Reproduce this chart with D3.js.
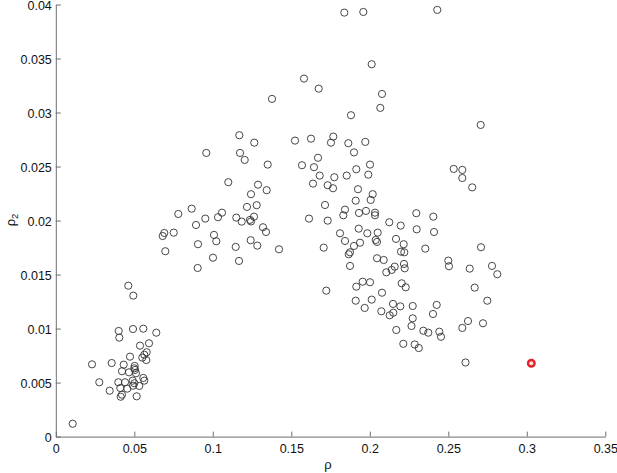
<!DOCTYPE html>
<html>
<head>
<meta charset="utf-8">
<script src="https://cdn.jsdelivr.net/npm/d3@7"></script>
<style>
  html, body { margin: 0; padding: 0; background: #fff; }
  svg { display: block; font-family: "Liberation Sans", Arial, Helvetica, sans-serif; }
</style>
</head>
<body>
<svg id="chart" width="617" height="473"></svg>
<script>
// ---- data (rho, rho_2) ----
const rho = [
  0.04618,0.04936,0.04006,0.04045,0.04917,0.05573,0.06401,0.05936,0.05363,0.05790,
  0.05637,0.05510,0.05764,0.04726,0.02306,0.03560,0.04325,0.05025,0.05000,0.04217,
  0.04662,0.05045,0.05108,0.05573,0.05637,0.04898,0.05000,0.02771,0.03981,0.04408,
  0.04108,0.04554,0.05318,0.04917,0.03433,0.04217,0.04134,0.05153,0.01076,
  0.13771,0.11688,0.12643,0.09586,0.11733,0.12032,0.13497,0.10987,0.12879,0.13433,
  0.12433,0.12796,0.12178,0.08656,0.07803,0.10586,0.10331,0.09522,0.11497,0.11841,
  0.12624,0.12369,0.12433,0.08930,0.13197,0.13388,0.06911,0.06809,0.07510,0.10076,
  0.10223,0.12414,0.12834,0.09057,0.11459,0.14217,0.06975,0.10013,0.11669,0.09038,
  0.18376,0.19586,0.24299,0.20121,0.15809,0.16745,0.20777,0.20669,0.18802,0.15236,
  0.16255,0.17675,0.17528,0.18631,0.19713,0.18994,0.16701,0.15681,0.16446,0.16809,
  0.17739,0.18529,0.19140,0.20013,0.19904,0.16382,0.17319,0.17656,0.19249,0.20185,
  0.20057,0.19102,0.17146,0.18420,0.18312,0.19312,0.19758,0.20331,0.20331,0.16127,
  0.17319,0.21242,0.21968,0.22962,0.24045,0.22987,0.24089,0.19293,0.19841,0.20503,
  0.18102,0.18420,0.19376,0.18994,0.20376,0.20459,0.21669,0.22159,0.17064,0.18739,
  0.18656,0.21987,0.22197,0.23535,0.20459,0.20885,0.18739,0.21586,0.21395,0.21051,
  0.22178,0.22223,0.25000,0.25044,0.26363,0.27083,0.19548,0.20013,0.19140,0.22032,
  0.22287,0.17229,0.26681,0.20777,0.19102,0.20121,0.19675,0.21478,0.21943,0.22733,
  0.24261,0.20733,0.21497,0.21267,0.24025,0.22733,0.22656,0.21688,0.23408,0.23726,
  0.24427,0.24535,0.25892,0.26255,0.27210,0.22134,0.22860,0.23121,0.25344,0.25892,
  0.25892,0.26522,0.27064,0.27783,0.28121,0.27484,0.26096
];
const rho2 = [
  0.01397,0.01305,0.00978,0.00916,0.00996,0.00999,0.00962,0.00864,0.00842,0.00781,
  0.00758,0.00731,0.00709,0.00740,0.00669,0.00681,0.00666,0.00654,0.00632,0.00605,
  0.00595,0.00617,0.00586,0.00543,0.00518,0.00518,0.00494,0.00503,0.00503,0.00503,
  0.00450,0.00444,0.00469,0.00471,0.00425,0.00388,0.00369,0.00373,0.00119,
  0.03126,0.02790,0.02721,0.02626,0.02626,0.02561,0.02518,0.02355,0.02332,0.02281,
  0.02244,0.02142,0.02126,0.02110,0.02061,0.02073,0.02031,0.02018,0.02027,0.01990,
  0.02036,0.02006,0.01992,0.01959,0.01938,0.01894,0.01885,0.01857,0.01888,0.01867,
  0.01808,0.01818,0.01768,0.01781,0.01756,0.01734,0.01716,0.01656,0.01626,0.01561,
  0.03925,0.03931,0.03950,0.03447,0.03314,0.03221,0.03172,0.03043,0.02975,0.02740,
  0.02758,0.02777,0.02721,0.02716,0.02728,0.02631,0.02581,0.02512,0.02494,0.02416,
  0.02401,0.02416,0.02475,0.02518,0.02425,0.02342,0.02327,0.02299,0.02290,0.02244,
  0.02191,0.02184,0.02144,0.02101,0.02049,0.02070,0.02089,0.02073,0.02049,0.02018,
  0.01999,0.01984,0.01953,0.02068,0.02036,0.01919,0.01894,0.01925,0.01882,0.01888,
  0.01882,0.01811,0.01795,0.01765,0.01820,0.01802,0.01830,0.01781,0.01749,0.01706,
  0.01688,0.01712,0.01706,0.01740,0.01651,0.01635,0.01580,0.01573,0.01543,0.01521,
  0.01598,0.01558,0.01629,0.01577,0.01555,0.01753,0.01434,0.01429,0.01388,0.01419,
  0.01382,0.01351,0.01379,0.01332,0.01258,0.01268,0.01191,0.01228,0.01206,0.01209,
  0.01219,0.01160,0.01147,0.01123,0.01135,0.01095,0.01024,0.00987,0.00980,0.00962,
  0.00971,0.00924,0.01006,0.01070,0.01049,0.00859,0.00853,0.00820,0.02478,0.02469,
  0.02394,0.02307,0.02885,0.01580,0.01503,0.01258,0.00686
];
const highlightRho = [0.30287];
const highlightRho2 = [0.00679];

const xTicks = [0, 0.05, 0.1, 0.15, 0.2, 0.25, 0.3, 0.35];
const yTicks = [0, 0.005, 0.01, 0.015, 0.02, 0.025, 0.03, 0.035, 0.04];
const xLabel = "ρ";
const yLabel = "ρ";
const yLabelSub = "2";

// ---- layout ----
const svg = d3.select("#chart");
const m = { left: 55.8, right: 605.3, top: 4.5, bottom: 436.6 };
const x = d3.scaleLinear().domain([0, 0.35]).range([m.left, m.right]);
const y = d3.scaleLinear().domain([0, 0.04]).range([m.bottom, m.top]);
const fmt = d => String(+d.toFixed(3));

const axisColor = "#6e6e6e";

const gx = svg.append("g")
  .attr("transform", `translate(0,${m.bottom})`)
  .call(d3.axisBottom(x).tickValues(xTicks).tickFormat(fmt).tickSizeInner(-5).tickSizeOuter(0).tickPadding(8));
const gy = svg.append("g")
  .attr("transform", `translate(${m.left},0)`)
  .call(d3.axisLeft(y).tickValues(yTicks).tickFormat(fmt).tickSizeInner(-5).tickSizeOuter(0).tickPadding(4));

[gx, gy].forEach(g => {
  g.select(".domain").attr("stroke", axisColor).attr("stroke-width", 1);
  g.selectAll(".tick line").attr("stroke", axisColor).attr("stroke-width", 1);
  g.selectAll(".tick text").attr("fill", "#111").style("font-size", "12.5px")
    .style("font-family", '"Liberation Sans", Arial, Helvetica, sans-serif');
});
gy.selectAll(".tick text").attr("dy", "0.42em");

// axis labels
svg.append("text")
  .attr("x", 328).attr("y", 469)
  .attr("text-anchor", "middle")
  .style("font-size", "13px").attr("fill", "#111")
  .text(xLabel);

const yl = svg.append("text")
  .attr("transform", "translate(15,220) rotate(-90)")
  .attr("text-anchor", "middle")
  .style("font-size", "13px").attr("fill", "#111");
yl.append("tspan").text(yLabel);
yl.append("tspan").attr("dy", 3).style("font-size", "9.5px").text(yLabelSub);

// points
const pts = rho.map((r, i) => ({ r, r2: rho2[i] }));
svg.append("g").selectAll("circle")
  .data(pts).join("circle")
  .attr("cx", d => x(d.r)).attr("cy", d => y(d.r2))
  .attr("r", 3.6)
  .attr("fill", "none")
  .attr("stroke", "#333")
  .attr("stroke-width", 0.9);

const hl = highlightRho.map((r, i) => ({ r, r2: highlightRho2[i] }));
svg.append("g").selectAll("circle")
  .data(hl).join("circle")
  .attr("cx", d => x(d.r)).attr("cy", d => y(d.r2))
  .attr("r", 3.3)
  .attr("fill", "#fbe3e3")
  .attr("stroke", "#e2232a")
  .attr("stroke-width", 2.4);
</script>
</body>
</html>
